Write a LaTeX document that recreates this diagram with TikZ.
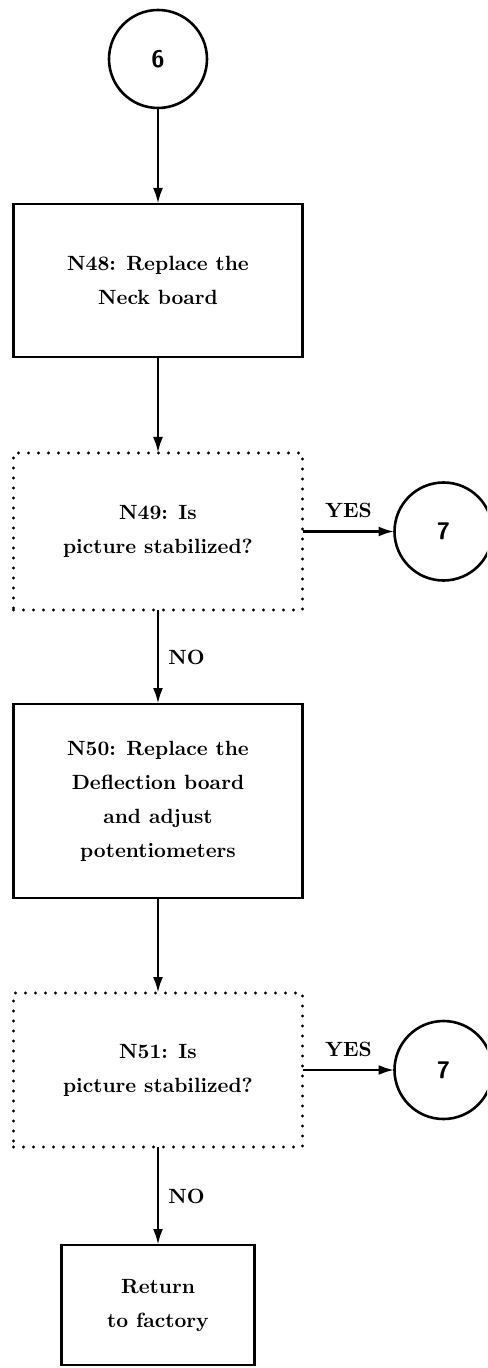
\documentclass[tikz,border=0pt]{standalone}
\usepackage{xcolor}
\usepackage{tikz}
\usetikzlibrary{shapes.geometric,arrows.meta,positioning}
\definecolor{flInk}{HTML}{000000}
\definecolor{flPaper}{HTML}{FFFFFF}
\tikzset{
  flstep/.style={draw=flInk,line width=1.4pt,fill=flPaper,text=flInk,align=center,
              inner sep=0pt,outer sep=0pt,font=\fontsize{10.3}{17}\selectfont\bfseries},
  flcheck/.style={flstep,line width=1.6pt,dash pattern=on 0pt off 5pt,line cap=round},
  flconn/.style={circle,draw=flInk,line width=1.3pt,minimum size=49pt,inner sep=0pt,outer sep=0pt,
              text=flInk,font=\fontsize{12}{14}\selectfont\sffamily\bfseries},
  flflow/.style={-{Latex[length=8pt,width=5pt]},draw=flInk,line width=1.4pt},
  fllbl/.style={font=\fontsize{10.3}{12}\selectfont\bfseries,text=flInk,inner sep=2pt},
}

\begin{document}
\begin{tikzpicture}[node distance=48pt]
  \useasboundingbox (-79pt,29.5pt) rectangle (164.5pt,-654.5pt);
  \clip (-79pt,29.5pt) rectangle (164.5pt,-654.5pt);
  \fill[flPaper] (-79pt,29.5pt) rectangle (164.5pt,-654.5pt);

  \node[flconn] (C6) {6};
  \node[flstep,minimum width=144.5pt,minimum height=76.5pt,below=48pt of C6] (N48) {N48: Replace the\\Neck board};
  \node[flcheck,minimum width=144.5pt,minimum height=78.5pt,below=48pt of N48] (N49) {N49: Is\\picture stabilized?};
  \node[flconn,right=46pt of N49] (C7a) {7};
  \node[flstep,minimum width=144.5pt,minimum height=97pt,below=47pt of N49] (N50) {N50: Replace the\\Deflection board\\and adjust\\potentiometers};
  \node[flcheck,minimum width=144.5pt,minimum height=77pt,below=47.5pt of N50] (N51) {N51: Is\\picture stabilized?};
  \node[flconn,right=46pt of N51] (C7b) {7};
  \node[flstep,minimum width=96.5pt,minimum height=60pt,below=49pt of N51] (RET) {Return\\to factory};

  \draw[flflow] (C6)--(N48);
  \draw[flflow] (N48)--(N49);
  \draw[flflow] (N49)--node[fllbl,above=4pt]{YES}(C7a);
  \draw[flflow] (N49)--node[fllbl,right=2.5pt]{NO}(N50);
  \draw[flflow] (N50)--(N51);
  \draw[flflow] (N51)--node[fllbl,above=4pt]{YES}(C7b);
  \draw[flflow] (N51)--node[fllbl,right=2.5pt]{NO}(RET);
\end{tikzpicture}
\end{document}
